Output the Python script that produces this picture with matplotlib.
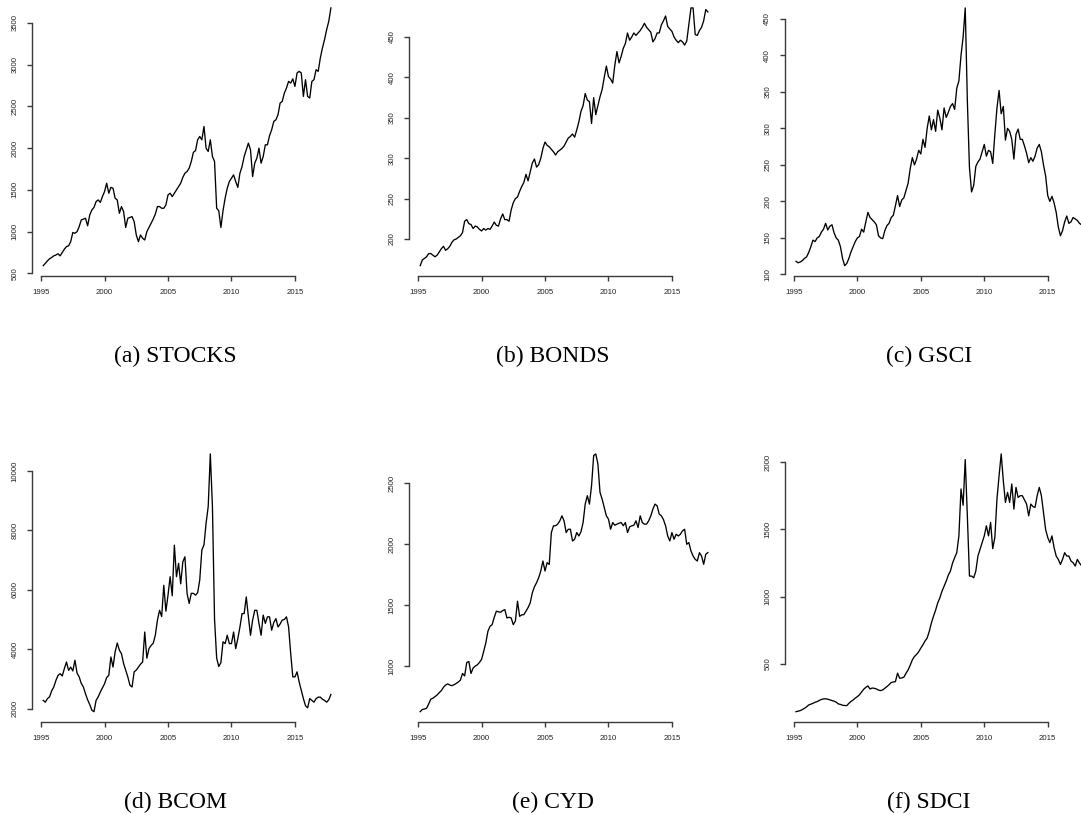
import numpy as np
import pandas as pd
import matplotlib
matplotlib.use('Agg')
import matplotlib.pyplot as plt

# bi-monthly observations, Mar 1995 .. Nov 2017
dates = pd.date_range('1995-03-01', '2017-11-01', freq='2MS')
years = np.asarray(dates.year + (dates.month - 1) / 12.0, dtype=float)

stocks = [
    592, 620, 650, 675, 690,
    710, 720, 735, 710, 750, 790,
    820, 830, 880, 990, 980, 1000,
    1060, 1140, 1150, 1160, 1070, 1200,
    1260, 1290, 1360, 1380, 1350, 1420,
    1480, 1580, 1460, 1530, 1520, 1400,
    1380, 1220, 1300, 1240, 1050, 1160,
    1170, 1180, 1120, 960, 880, 960,
    920, 900, 1000, 1050, 1100, 1150,
    1210, 1300, 1300, 1280, 1280, 1320,
    1440, 1460, 1420, 1460, 1500, 1540,
    1580, 1650, 1700, 1720, 1760, 1840,
    1950, 1970, 2100, 2140, 2100, 2260,
    2000, 1960, 2100, 1900, 1840, 1280,
    1250, 1050, 1250, 1400, 1520, 1600,
    1640, 1680, 1600, 1530, 1700, 1780,
    1900, 1980, 2060, 1980, 1660, 1820,
    1880, 2000, 1820, 1900, 2040, 2040,
    2150, 2220, 2320, 2340, 2400, 2540,
    2560, 2660, 2720, 2800, 2780, 2830,
    2740, 2900, 2920, 2900, 2620, 2820,
    2620, 2600, 2800, 2820, 2940, 2920,
    3080, 3200, 3300, 3420, 3520, 3680,
]

bonds = [
    167, 174, 176, 178, 182,
    182, 180, 178, 180, 184, 188,
    191, 186, 188, 191, 196, 199,
    200, 202, 204, 208, 222, 224,
    219, 218, 213, 216, 215, 212,
    210, 213, 211, 213, 212, 216,
    221, 217, 216, 225, 231, 224,
    224, 222, 236, 245, 250, 252,
    259, 265, 270, 280, 272, 283,
    294, 299, 289, 292, 300, 312,
    320, 316, 314, 311, 308, 304,
    308, 310, 312, 315, 320, 325,
    327, 330, 326, 335, 345, 358,
    365, 380, 372, 370, 343, 375,
    354, 365, 376, 385, 400, 414,
    401, 398, 393, 415, 432, 418,
    426, 436, 442, 455, 446, 450,
    455, 452, 455, 458, 462, 467,
    462, 459, 456, 444, 448, 455,
    455, 465, 470, 476, 463, 460,
    457, 450, 446, 443, 446, 444,
    440, 445, 465, 486, 486, 453,
    452, 458, 462, 470, 484, 481,
]

gsci = [
    118, 116, 117, 119, 122,
    124, 130, 138, 147, 145, 150,
    152, 158, 162, 170, 161, 166,
    168, 157, 150, 147, 138, 122,
    112, 115, 122, 131, 138, 145,
    150, 152, 162, 158, 172, 185,
    178, 175, 172, 168, 153, 150,
    149, 160, 167, 170, 178, 181,
    194, 208, 193, 202, 205, 215,
    225, 245, 260, 250, 258, 270,
    265, 285, 274, 300, 317, 298,
    312, 296, 325, 314, 298, 328,
    315, 322, 330, 334, 326, 355,
    365, 400, 425, 465, 338, 246,
    213, 222, 248, 254, 258, 268,
    278, 262, 270, 268, 252, 292,
    328, 352, 320, 330, 284, 300,
    296, 285, 258, 292, 299, 285,
    285, 276, 266, 253, 260, 255,
    262, 273, 278, 268, 250, 235,
    208, 200, 207, 198, 185, 165,
    153, 160, 172, 180, 170, 172,
    178, 176, 174, 170, 168, 172,
]

bcom = [
    2280, 2220, 2340, 2400, 2600,
    2730, 2950, 3120, 3180, 3100, 3350,
    3570, 3290, 3400, 3270, 3630, 3200,
    3070, 2850, 2730, 2500, 2300, 2140,
    1950, 1900, 2280, 2400, 2560, 2700,
    2840, 3050, 3120, 3740, 3400, 3910,
    4210, 3970, 3850, 3520, 3300, 3070,
    2790, 2730, 3240, 3300, 3400, 3500,
    3570, 4580, 3700, 4020, 4130, 4200,
    4470, 4980, 5310, 5100, 6150, 5280,
    5820, 6440, 5800, 7500, 6440, 6890,
    6200, 6940, 7110, 5880, 5540, 5880,
    5880, 5820, 5900, 6330, 7340, 7510,
    8240, 8800, 10570, 8800, 5000, 3700,
    3420, 3550, 4250, 4190, 4470, 4190,
    4190, 4580, 4020, 4360, 4750, 5200,
    5200, 5760, 5090, 4470, 4980, 5310,
    5310, 4870, 4470, 5150, 4870, 5090,
    5090, 4640, 4900, 5030, 4750, 4850,
    4980, 5000, 5090, 4750, 3850, 3070,
    3070, 3240, 2900, 2620, 2340, 2100,
    2030, 2340, 2280, 2220, 2340, 2390,
    2390, 2320, 2280, 2220, 2300, 2480,
]

cyd = [
    627, 645, 649, 655, 690,
    729, 737, 750, 764, 783, 800,
    827, 845, 855, 845, 840, 848,
    858, 870, 885, 940, 920, 1030,
    1038, 940, 984, 1000, 1011, 1030,
    1055, 1120, 1189, 1285, 1326, 1340,
    1400, 1450, 1445, 1441, 1455, 1463,
    1395, 1400, 1395, 1340, 1370, 1532,
    1408, 1420, 1422, 1450, 1480, 1518,
    1600, 1650, 1683, 1724, 1779, 1861,
    1779, 1847, 1833, 2094, 2149, 2150,
    2163, 2190, 2231, 2190, 2094, 2121,
    2121, 2025, 2039, 2094, 2066, 2100,
    2176, 2327, 2396, 2327, 2478, 2725,
    2738, 2656, 2423, 2368, 2300, 2231,
    2204, 2121, 2176, 2154, 2163, 2170,
    2176, 2150, 2176, 2094, 2140, 2149,
    2154, 2190, 2135, 2231, 2176, 2163,
    2163, 2190, 2230, 2286, 2327, 2313,
    2245, 2231, 2200, 2149, 2066, 2025,
    2094, 2039, 2080, 2066, 2080, 2108,
    2121, 1998, 2012, 1943, 1902, 1875,
    1861, 1929, 1902, 1834, 1916, 1930,
]

sdci = [
    144, 148, 152, 160, 169,
    180, 194, 200, 206, 214, 219,
    228, 235, 239, 240, 237, 232,
    227, 222, 215, 202, 198, 192,
    190, 189, 206, 220, 231, 245,
    256, 270, 290, 311, 325, 336,
    313, 320, 318, 313, 305, 301,
    306, 318, 331, 345, 361, 365,
    368, 431, 393, 395, 401, 430,
    455, 490, 530, 555, 570, 590,
    617, 642, 670, 692, 742, 804,
    854, 900, 954, 991, 1040, 1078,
    1115, 1160, 1190, 1250, 1290, 1327,
    1452, 1801, 1680, 2020, 1600, 1153,
    1153, 1140, 1190, 1302, 1352, 1400,
    1452, 1527, 1452, 1552, 1357, 1440,
    1726, 1900, 2062, 1863, 1701, 1776,
    1701, 1838, 1651, 1813, 1738, 1751,
    1751, 1720, 1689, 1601, 1689, 1670,
    1664, 1751, 1813, 1751, 1626, 1500,
    1440, 1402, 1452, 1365, 1302, 1277,
    1240, 1277, 1327, 1302, 1302, 1265,
    1252, 1228, 1277, 1250, 1230, 1270,
]

captions = ['(a) STOCKS', '(b) BONDS', '(c) GSCI', '(d) BCOM', '(e) CYD', '(f) SDCI']
series = [stocks, bonds, gsci, bcom, cyd, sdci]
x_ticks = [1995, 2000, 2005, 2010, 2015]
y_ticks = [
    [500, 1000, 1500, 2000, 2500, 3000, 3500],
    [200, 250, 300, 350, 400, 450],
    [100, 150, 200, 250, 300, 350, 400, 450],
    [2000, 4000, 6000, 8000, 10000],
    [1000, 1500, 2000, 2500],
    [500, 1000, 1500, 2000],
]

W, H = 1081, 815
fig = plt.figure(figsize=(W / 100, H / 100), dpi=100)

col_left = [31.7, 408.7, 784.5]
row_bottom = [276.0, 722.0]
ax_w, ax_h = 310.7, 278.4
cap_x = [175.5, 552.5, 929.0]
cap_y = [356.0, 802.0]

axis_col = '#3a3a3a'
for i, (vals, yt, cap) in enumerate(zip(series, y_ticks, captions)):
    r, c = divmod(i, 3)
    ax = fig.add_axes([col_left[c] / W, (H - row_bottom[r]) / H, ax_w / W, ax_h / H])
    y = np.asarray(vals, dtype=float)
    ax.plot(years, y, color='black', lw=0.95)
    xr = years.max() - years.min()
    yr = y.max() - y.min()
    ax.set_xlim(years.min() - 0.04 * xr, years.max() + 0.04 * xr)
    ax.set_ylim(y.min() - 0.04 * yr, y.max() + 0.04 * yr)
    ax.set_xticks(x_ticks)
    ax.set_yticks(yt)
    ax.set_xticklabels([str(v) for v in x_ticks])
    ax.set_yticklabels([str(v) for v in yt], rotation=90, va='center')
    for s in ['top', 'right']:
        ax.spines[s].set_visible(False)
    for s in ['left', 'bottom']:
        ax.spines[s].set_color(axis_col)
        ax.spines[s].set_linewidth(1.0)
    ax.spines['left'].set_bounds(yt[0], yt[-1])
    ax.spines['bottom'].set_bounds(x_ticks[0], x_ticks[-1])
    ax.tick_params(direction='out', length=3.5, width=1.0, color=axis_col,
                   labelsize=5.6, pad=6, labelcolor='#222222')
    for lab in ax.get_xticklabels() + ax.get_yticklabels():
        lab.set_fontfamily('Liberation Sans')
    ax.patch.set_visible(False)
    fig.text(cap_x[c] / W, 1 - cap_y[r] / H, cap, ha='center', va='center',
             fontsize=17, family='Liberation Serif', color='black')

fig.savefig('out.png', dpi=100)
